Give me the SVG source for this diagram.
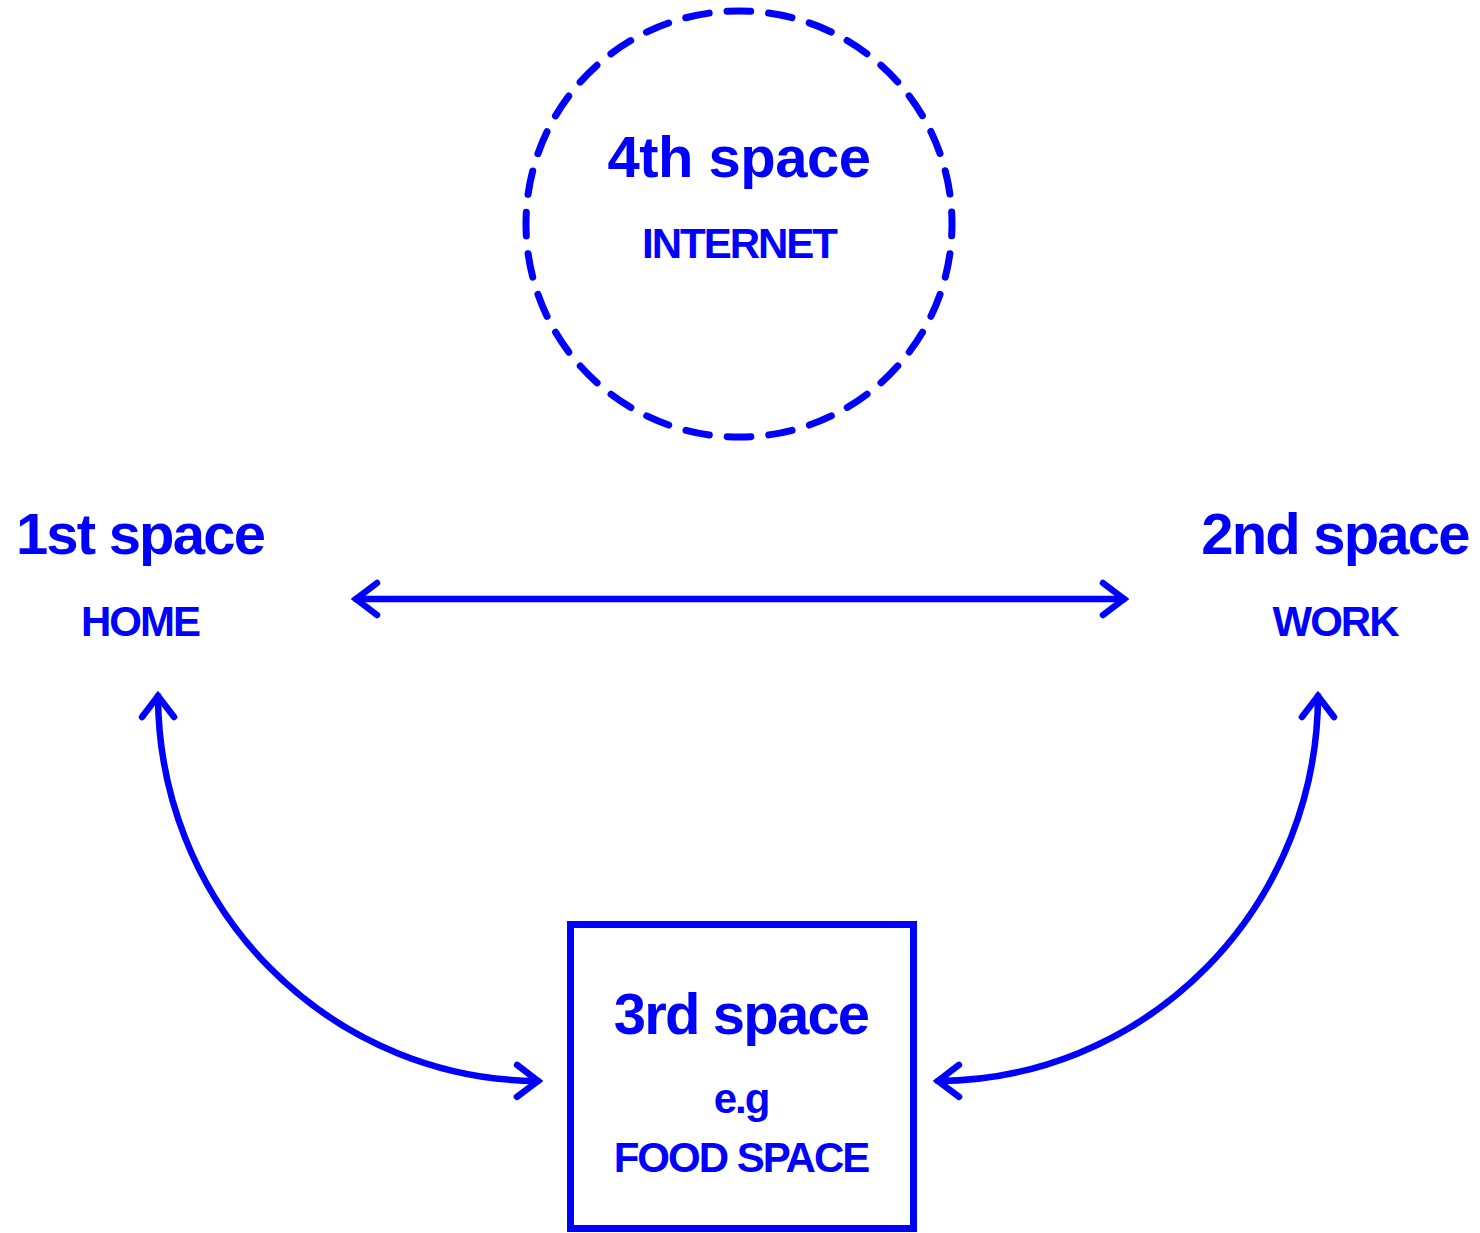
<svg xmlns="http://www.w3.org/2000/svg" width="1480" height="1233" viewBox="0 0 1480 1233">
<style>
text{font-family:"Liberation Sans",Arial,sans-serif;font-weight:bold;fill:#0000FF;text-anchor:middle}
.h{font-size:58px;letter-spacing:-1.8px}
.s{font-size:42px;letter-spacing:-2px}
.line{fill:none;stroke:#0000FF;stroke-width:6.5;stroke-linecap:round}
</style>
<defs>
<marker id="arr" markerUnits="userSpaceOnUse" viewBox="-30 -25 40 50" markerWidth="40" markerHeight="50" refX="0" refY="0" orient="auto-start-reverse" overflow="visible">
<path d="M -21 -16 L 0 0 L -21 16" fill="none" stroke="#0000FF" stroke-width="6.5" stroke-linecap="round" stroke-linejoin="miter"/>
</marker>
</defs>
<rect width="1480" height="1233" fill="#fff"/>
<g id="node-4th">
<circle cx="739" cy="224" r="213" fill="none" stroke="#0000FF" stroke-width="7" stroke-linecap="round" stroke-dasharray="23.8 18" stroke-dashoffset="11.9"/>
<text class="h" x="739" y="177" style="letter-spacing:-0.5px">4th space</text>
<text class="s" x="739" y="258">INTERNET</text>
</g>
<g id="node-1st">
<text class="h" x="140" y="554">1st space</text>
<text class="s" x="140" y="636">HOME</text>
</g>
<g id="node-2nd">
<text class="h" x="1335" y="554">2nd space</text>
<text class="s" x="1335" y="636">WORK</text>
</g>
<g id="node-3rd">
<rect x="570.5" y="924.5" width="343" height="304" fill="none" stroke="#0000FF" stroke-width="7"/>
<text class="h" x="741" y="1034">3rd space</text>
<text class="s" x="741" y="1113">e.g</text>
<text class="s" x="741" y="1172">FOOD SPACE</text>
</g>
<g id="connectors">
<path class="line" d="M 356 599 L 1124 599" marker-start="url(#arr)" marker-end="url(#arr)"/>
<path class="line" d="M 158 696 A 382 386 0 0 0 538 1081" marker-start="url(#arr)" marker-end="url(#arr)"/>
<path class="line" d="M 1318 696 A 382 386 0 0 1 938 1081" marker-start="url(#arr)" marker-end="url(#arr)"/>
</g>
</svg>
